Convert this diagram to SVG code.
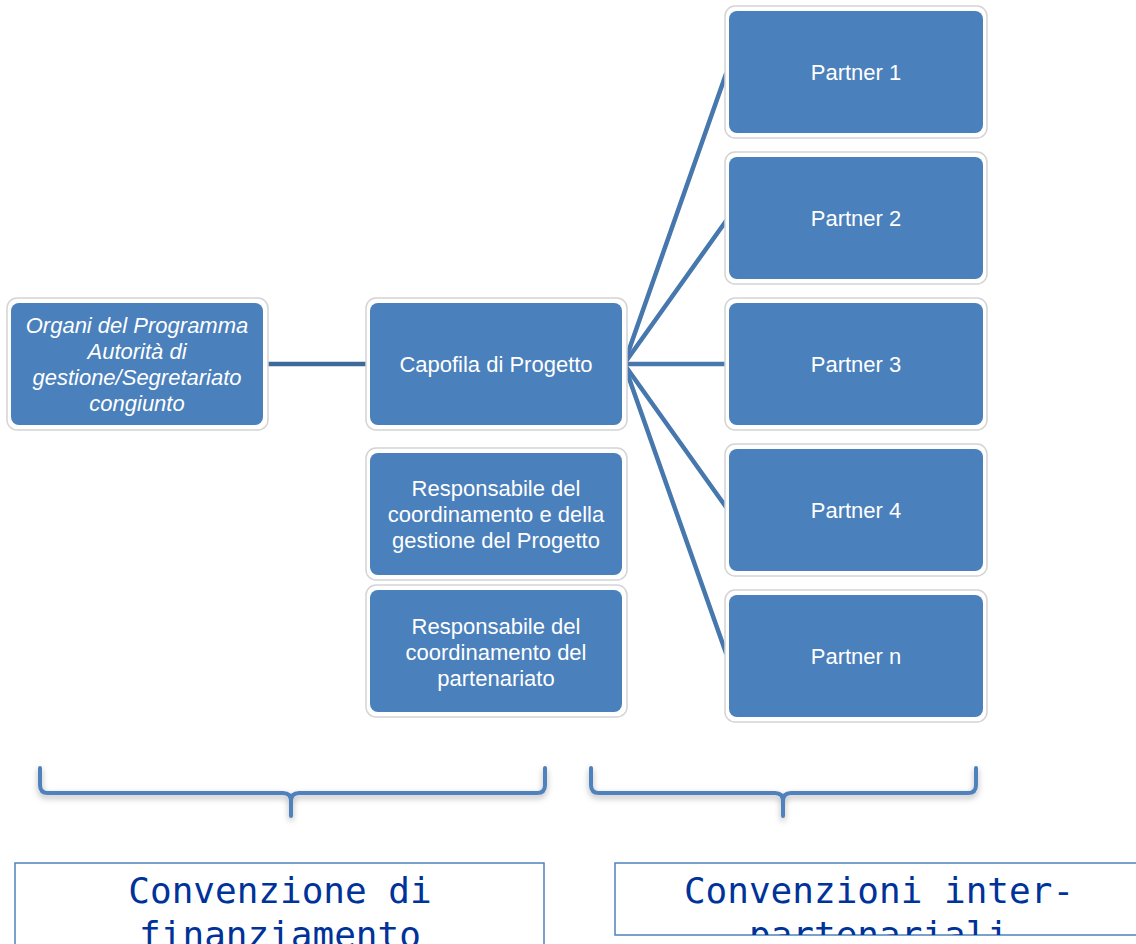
<svg xmlns="http://www.w3.org/2000/svg" width="1136" height="944" viewBox="0 0 1136 944">
<style>
.outer{fill:#ffffff;stroke:#d4d4d4;stroke-width:1.5}
.box{fill:#4a80bb}
.t{font-family:"Liberation Sans",Arial,sans-serif;font-size:22px;fill:#ffffff;text-anchor:middle}
.it{font-style:italic}
.conn{stroke:#4677ad;stroke-width:4.5;fill:none;stroke-linecap:round}
.brace{stroke:#4f81bd;stroke-width:4;fill:none;stroke-linecap:round;stroke-linejoin:round}
.lbl{fill:#ffffff;stroke:#4f81bd;stroke-width:1.5}
.mono{font-family:"DejaVu Sans Mono","Liberation Mono",monospace;font-size:36px;fill:#003399;text-anchor:middle}
</style>
<defs>
<filter id="sh" x="-10%" y="-50%" width="120%" height="200%">
<feDropShadow dx="0" dy="3" stdDeviation="3" flood-color="#000000" flood-opacity="0.3"/>
</filter>
<clipPath id="clipL"><rect x="15" y="863" width="529" height="81"/></clipPath>
<clipPath id="clipR"><rect x="615" y="863" width="526" height="72"/></clipPath>
</defs>

<g id="connectors">
<line class="conn" x1="264" y1="364" x2="370" y2="364" style="stroke:#3d6a99"/>
<line class="conn" x1="624" y1="364" x2="726" y2="74"/>
<line class="conn" x1="624" y1="364" x2="726" y2="221"/>
<line class="conn" x1="624" y1="364" x2="728" y2="364"/>
<line class="conn" x1="624" y1="364" x2="726" y2="507"/>
<line class="conn" x1="624" y1="364" x2="726" y2="653"/>
</g>

<g id="organi">
<rect class="outer" x="7" y="298" width="261" height="132" rx="10"/>
<rect class="box" x="11" y="303" width="252" height="122" rx="8"/>
<text class="t it" x="137" y="333">Organi del Programma</text>
<text class="t it" x="137" y="359">Autorità di</text>
<text class="t it" x="137" y="385">gestione/Segretariato</text>
<text class="t it" x="137" y="411">congiunto</text>
</g>

<g id="capofila">
<rect class="outer" x="366" y="298" width="261" height="132" rx="10"/>
<rect class="box" x="370" y="303" width="252" height="122" rx="8"/>
<text class="t" x="496" y="372">Capofila di Progetto</text>
</g>

<g id="resp1">
<rect class="outer" x="366" y="448" width="261" height="132" rx="10"/>
<rect class="box" x="370" y="453" width="252" height="122" rx="8"/>
<text class="t" x="496" y="496">Responsabile del</text>
<text class="t" x="496" y="522">coordinamento e della</text>
<text class="t" x="496" y="548">gestione del Progetto</text>
</g>

<g id="resp2">
<rect class="outer" x="366" y="585" width="261" height="132" rx="10"/>
<rect class="box" x="370" y="590" width="252" height="122" rx="8"/>
<text class="t" x="496" y="634">Responsabile del</text>
<text class="t" x="496" y="660">coordinamento del</text>
<text class="t" x="496" y="686">partenariato</text>
</g>

<g id="partner1">
<rect class="outer" x="725" y="6" width="262" height="132" rx="10"/>
<rect class="box" x="729" y="11" width="254" height="122" rx="8"/>
<text class="t" x="856" y="80">Partner 1</text>
</g>
<g id="partner2">
<rect class="outer" x="725" y="152" width="262" height="132" rx="10"/>
<rect class="box" x="729" y="157" width="254" height="122" rx="8"/>
<text class="t" x="856" y="226">Partner 2</text>
</g>
<g id="partner3">
<rect class="outer" x="725" y="298" width="262" height="132" rx="10"/>
<rect class="box" x="729" y="303" width="254" height="122" rx="8"/>
<text class="t" x="856" y="372">Partner 3</text>
</g>
<g id="partner4">
<rect class="outer" x="725" y="444" width="262" height="132" rx="10"/>
<rect class="box" x="729" y="449" width="254" height="122" rx="8"/>
<text class="t" x="856" y="518">Partner 4</text>
</g>
<g id="partnern">
<rect class="outer" x="725" y="590" width="262" height="132" rx="10"/>
<rect class="box" x="729" y="595" width="254" height="122" rx="8"/>
<text class="t" x="856" y="664">Partner n</text>
</g>

<g id="brace-left" filter="url(#sh)">
<path class="brace" d="M40,768 V785 Q40,793 48,793 H283 Q291,793 291,801 V816 M291,801 Q291,793 299,793 H537 Q545,793 545,785 V768"/>
</g>
<g id="brace-right" filter="url(#sh)">
<path class="brace" d="M591,768 V785 Q591,793 599,793 H775 Q783,793 783,801 V816 M783,801 Q783,793 791,793 H968 Q976,793 976,785 V768"/>
</g>

<g id="label-left">
<rect class="lbl" x="15" y="863" width="529" height="90"/>
<g clip-path="url(#clipL)">
<text class="mono" x="280" y="903">Convenzione di</text>
<text class="mono" x="280" y="947">finanziamento</text>
</g>
</g>
<g id="label-right">
<rect class="lbl" x="615" y="863" width="530" height="72"/>
<g clip-path="url(#clipR)">
<text class="mono" x="879" y="903">Convenzioni inter-</text>
<text class="mono" x="879" y="947">partenariali</text>
</g>
</g>
</svg>
